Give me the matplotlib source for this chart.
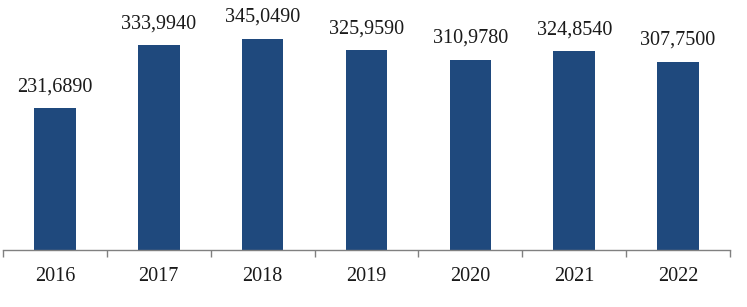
import matplotlib
matplotlib.use("Agg")
import matplotlib.pyplot as plt
import numpy as np

years = ["2016", "2017", "2018", "2019", "2020", "2021", "2022"]
values = [231.689, 333.994, 345.049, 325.959, 310.978, 324.854, 307.750]
labels = ["231,6890", "333,9940", "345,0490", "325,9590", "310,9780", "324,8540", "307,7500"]

plt.rcParams['font.family'] = ['Liberation Serif', 'DejaVu Serif']

fig = plt.figure(figsize=(7.47, 3.07), dpi=100)
ax = fig.add_axes([3/747, 57/307, 727/747, 245/307])

x = np.arange(len(years))
ax.bar(x, values, width=0.4, color='#1F497D')
for xi, v, lab in zip(x, values, labels):
    ax.text(xi, v + 19, lab, ha='center', va='bottom', fontsize=14.5, color='#1a1a1a')

ax.set_xlim(-0.5, len(years) - 0.5)
ax.set_ylim(0, 400)
ax.set_yticks([])
for s in ['top', 'right', 'left']:
    ax.spines[s].set_visible(False)
ax.spines['bottom'].set_color('#808080')
ax.spines['bottom'].set_linewidth(1)
ax.set_xticks(np.arange(-0.5, len(years)), minor=False)
ax.set_xticklabels([])
ax.tick_params(axis='x', which='major', direction='out', length=5, color='#808080', width=1)
ax.set_xticks(x, minor=True)
ax.set_xticklabels(years, minor=True, fontsize=14.5, color='#1a1a1a')
ax.tick_params(axis='x', which='minor', length=0, pad=12)

fig.savefig('out.png', dpi=100)
